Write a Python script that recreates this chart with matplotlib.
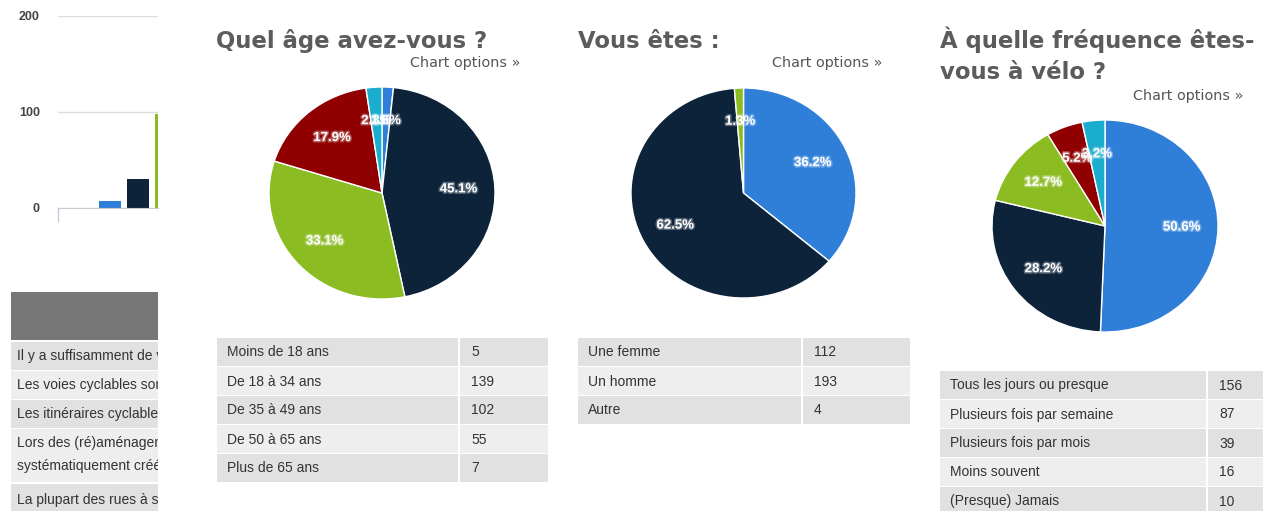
"""Survey screenshot: three pies with count tables, and a clipped bar panel on the left."""

import matplotlib

matplotlib.use("Agg")
import matplotlib.pyplot as plt  # noqa: E402
import matplotlib.patheffects as pe  # noqa: E402
from matplotlib.patches import Rectangle  # noqa: E402

W, H = 1279, 511

PALETTE = ["#2f7ed8", "#0d233a", "#8bbc21", "#910000", "#1aadce"]

AGE_LABELS = ["Moins de 18 ans", "De 18 à 34 ans", "De 35 à 49 ans",
              "De 50 à 65 ans", "Plus de 65 ans"]
AGE_COUNTS = [5, 139, 102, 55, 7]

SEX_LABELS = ["Une femme", "Un homme", "Autre"]
SEX_COUNTS = [112, 193, 4]

FREQ_LABELS = ["Tous les jours ou presque", "Plusieurs fois par semaine",
               "Plusieurs fois par mois", "Moins souvent", "(Presque) Jamais"]
FREQ_COUNTS = [156, 87, 39, 16, 10]

# partially visible column chart on the far left
LEFT_BARS = [7, 30, 98]
LEFT_YTICKS = [0, 100, 200]

# left table: only the part that shows before the panel edge
LEFT_ROWS = [
    ["Il y a suffisamment de v"],
    ["Les voies cyclables son"],
    ["Les itinéraires cyclables"],
    ["Lors des (ré)aménagem", "systématiquement créé"],
    ["La plupart des rues à s"],
]

TITLE_COLOR = "#5c5c5c"
TEXT_COLOR = "#333333"
ROW_DARK = "#e1e1e1"
ROW_LIGHT = "#eeeeee"
TABLE_FONT = "Liberation Sans"

plt.rcParams.update({"font.family": "DejaVu Sans"})


def px_axes(fig, x0, y0, x1, y1, **kw):
    return fig.add_axes([x0 / W, 1 - y1 / H, (x1 - x0) / W, (y1 - y0) / H], **kw)


def draw_pie(fig, cx, cy, rx, ry, counts):
    ax = px_axes(fig, cx - rx, cy - ry, cx + rx, cy + ry)
    wedges, _, autotexts = ax.pie(
        counts, colors=PALETTE[: len(counts)], startangle=90, counterclock=False,
        autopct="%.1f%%", pctdistance=0.68, radius=1.0,
        wedgeprops=dict(edgecolor="white", linewidth=1.0),
        textprops=dict(color="white", fontweight="bold", fontsize=9.5,
                       family=TABLE_FONT),
    )
    for t in autotexts:
        t.set_path_effects([pe.withStroke(linewidth=2.2, foreground="white", alpha=0.3)])
    ax.set_aspect("auto")
    ax.set_xlim(-1, 1)
    ax.set_ylim(-1, 1)
    ax.axis("off")
    for w in wedges:
        w.set_clip_on(False)
    return ax


def draw_table(ax, x0, x1, col_x, top, labels, counts, row_h=29):
    for i, (lab, val) in enumerate(zip(labels, counts)):
        y = top + i * row_h
        color = ROW_DARK if i % 2 == 0 else ROW_LIGHT
        ax.add_patch(Rectangle((x0, y), col_x - x0 - 1, row_h - 1, color=color, lw=0))
        ax.add_patch(Rectangle((col_x + 1, y), x1 - col_x - 1, row_h - 1, color=color, lw=0))
        ax.text(x0 + 10, y + row_h / 2, lab, va="center", ha="left", fontsize=10,
                color=TEXT_COLOR, family=TABLE_FONT)
        ax.text(col_x + 12, y + row_h / 2, str(val), va="center", ha="left",
                fontsize=10, color=TEXT_COLOR, family=TABLE_FONT)


fig = plt.figure(figsize=(W / 100, H / 100), dpi=100, facecolor="white")

# full-figure canvas in pixel coordinates
canvas = fig.add_axes([0, 0, 1, 1])
canvas.set_xlim(0, W)
canvas.set_ylim(H, 0)
canvas.axis("off")

# titles and "Chart options" links
title_kw = dict(fontsize=16.4, fontweight="bold", color=TITLE_COLOR, va="baseline",
                ha="left")
canvas.text(216, 48, "Quel âge avez-vous ?", **title_kw)
canvas.text(578, 48, "Vous êtes :", **title_kw)
canvas.text(940, 48, "À quelle fréquence êtes-", **title_kw)
canvas.text(940, 79, "vous à vélo ?", **title_kw)
opt_kw = dict(fontsize=10.4, color="#555555", ha="right", va="center")
canvas.text(520, 63, "Chart options »", **opt_kw)
canvas.text(882, 63, "Chart options »", **opt_kw)
canvas.text(1243, 96, "Chart options »", **opt_kw)

draw_table(canvas, 217, 548, 459, 338, AGE_LABELS, AGE_COUNTS)
draw_table(canvas, 578, 910, 802, 338, SEX_LABELS, SEX_COUNTS)
draw_table(canvas, 940, 1263, 1207, 371, FREQ_LABELS, FREQ_COUNTS)

draw_pie(fig, 382, 193, 113, 106, AGE_COUNTS)
draw_pie(fig, 743.5, 193, 112.5, 105, SEX_COUNTS)
draw_pie(fig, 1105, 226, 113, 106, FREQ_COUNTS)

# left column chart, clipped at the panel edge
bar_ax = px_axes(fig, 58, 16, 158, 208)
step, width = 28, 22
first_center = 110
xs = list(range(len(LEFT_BARS)))
bar_ax.bar(xs, LEFT_BARS, width=width / step, color=PALETTE[: len(LEFT_BARS)])
bar_ax.set_xlim(-(first_center - 58) / step, (158 - first_center) / step)
bar_ax.set_ylim(0, 200)
bar_ax.set_yticks(LEFT_YTICKS)
bar_ax.set_yticklabels([str(v) for v in LEFT_YTICKS], fontsize=9, fontweight="bold",
                       color="#444444", family=TABLE_FONT)
bar_ax.tick_params(axis="y", length=0, pad=13)
bar_ax.set_xticks([bar_ax.get_xlim()[0]])
bar_ax.set_xticklabels([])
bar_ax.tick_params(axis="x", length=10, color="#c0d0e0", width=1)
bar_ax.grid(axis="y", color="#dcdcdc", linewidth=1)
bar_ax.set_axisbelow(True)
for s in ["top", "right", "left"]:
    bar_ax.spines[s].set_visible(False)
bar_ax.spines["bottom"].set_color("#c8ccd0")

# left table, clipped at x=158
tab_ax = px_axes(fig, 11, 292, 158, H)
tab_ax.set_xlim(11, 158)
tab_ax.set_ylim(H, 292)
tab_ax.axis("off")
tab_ax.add_patch(Rectangle((11, 292), 147, 48, color="#777777", lw=0))
row_tops = [342, 371, 400, 429, 484]
row_bottoms = [370, 399, 428, 482, 520]
line_y = [[356], [385], [414], [443, 466], [500]]
for i, lines in enumerate(LEFT_ROWS):
    color = ROW_DARK if i % 2 == 0 else ROW_LIGHT
    tab_ax.add_patch(Rectangle((11, row_tops[i]), 147, row_bottoms[i] - row_tops[i],
                               color=color, lw=0))
    for txt, y in zip(lines, line_y[i]):
        tab_ax.text(17, y, txt, va="center", ha="left", fontsize=10, color=TEXT_COLOR,
                    family=TABLE_FONT, clip_on=True)

fig.savefig("out.png", dpi=100, facecolor="white")
